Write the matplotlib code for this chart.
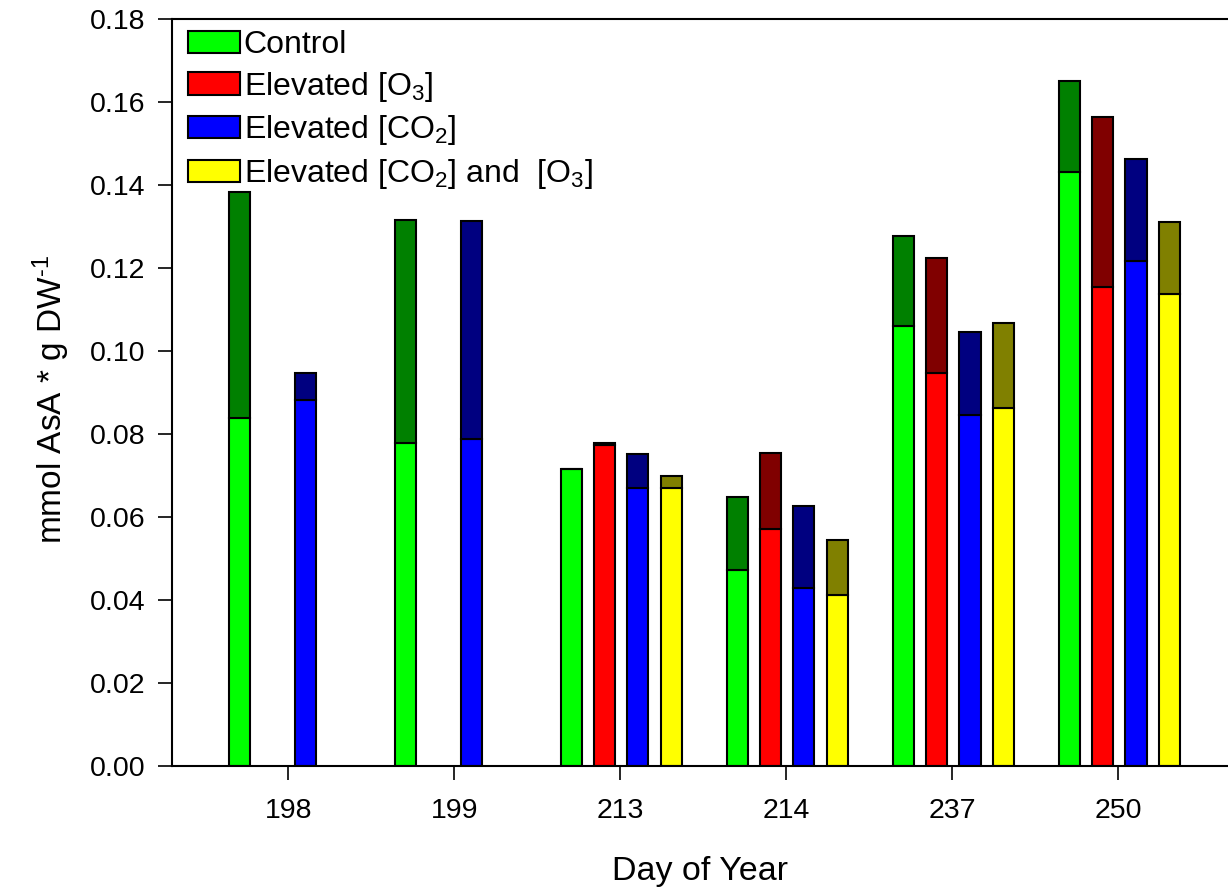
import numpy as np
import matplotlib
matplotlib.use("Agg")
import matplotlib.pyplot as plt

plt.rcParams["font.family"] = ["Liberation Sans", "DejaVu Sans"]
plt.rcParams["mathtext.fontset"] = "custom"
plt.rcParams["mathtext.rm"] = "Liberation Sans"
plt.rcParams["mathtext.it"] = "Liberation Sans:italic"

# Day of year for each sampling date
days = ["198", "199", "213", "214", "237", "250"]

# Reduced AsA (lower segment) and total AsA (top of bar), mmol per g DW
control_asa = [0.0839, 0.0778, 0.0716, 0.0472, 0.1060, 0.1431]
control_tot = [0.1383, 0.1316, 0.0716, 0.0648, 0.1277, 0.1651]
o3_asa = [np.nan, np.nan, 0.0773, 0.0571, 0.0947, 0.1154]
o3_tot = [np.nan, np.nan, 0.0778, 0.0754, 0.1224, 0.1564]
co2_asa = [0.0882, 0.0788, 0.0670, 0.0429, 0.0846, 0.1217]
co2_tot = [0.0947, 0.1313, 0.0752, 0.0627, 0.1046, 0.1463]
both_asa = [np.nan, np.nan, 0.0670, 0.0412, 0.0863, 0.1137]
both_tot = [np.nan, np.nan, 0.0699, 0.0545, 0.1067, 0.1311]

series = [
    ("Control", control_asa, control_tot, "#00ff00", "#008000"),
    (r"Elevated [O$_3$]", o3_asa, o3_tot, "#ff0000", "#800000"),
    (r"Elevated [CO$_2$]", co2_asa, co2_tot, "#0000ff", "#000080"),
    (r"Elevated [CO$_2$] and  [O$_3$]", both_asa, both_tot, "#ffff00", "#808000"),
]

fig = plt.figure(figsize=(12.28, 8.89), dpi=100)
ax = fig.add_axes([0.140, 0.1384, 0.860, 0.8402])

x = np.arange(len(days))
width = 0.127
step = 0.2
handles = []
for i, (label, asa, tot, light, dark) in enumerate(series):
    pos = x + (i - 1.5) * step + 0.006
    asa = np.array(asa)
    tot = np.array(tot)
    # light segment = reduced AsA, dark segment = remainder up to total
    h = ax.bar(pos, asa, width, color=light, edgecolor="black", linewidth=1.5, label=label)
    ax.bar(pos, tot - asa, width, bottom=asa, color=dark, edgecolor="black", linewidth=1.5)
    handles.append(h)

ax.set_xlim(-0.70, 5.66)
ax.set_ylim(0, 0.18)
yt = np.arange(0, 0.181, 0.02)
ax.set_yticks(yt)
ax.set_yticklabels([f"{v:.2f}" for v in yt])
ax.set_xticks(x)
ax.set_xticklabels(days)
ax.tick_params(axis="both", direction="out", length=10, width=1.2, labelsize=20.5)
ax.tick_params(axis="x", pad=13)
ax.tick_params(axis="y", pad=9)
ax.spines["right"].set_visible(False)
for s in ["left", "bottom", "top"]:
    ax.spines[s].set_linewidth(1.5)

ax.set_xlabel("Day of Year", fontsize=24.5, labelpad=23)
ax.set_ylabel("mmol AsA * g DW$^{\u20101}$", fontsize=24)
ax.yaxis.set_label_coords(-0.095, 0.49)

ax.legend(handles=handles, loc="upper left", bbox_to_anchor=(0.015, 0.985),
          frameon=False, fontsize=23, handlelength=1.65, handleheight=0.7,
          handletextpad=0.1, labelspacing=0.3, borderpad=0, borderaxespad=0)

fig.savefig("out.png", dpi=100)
